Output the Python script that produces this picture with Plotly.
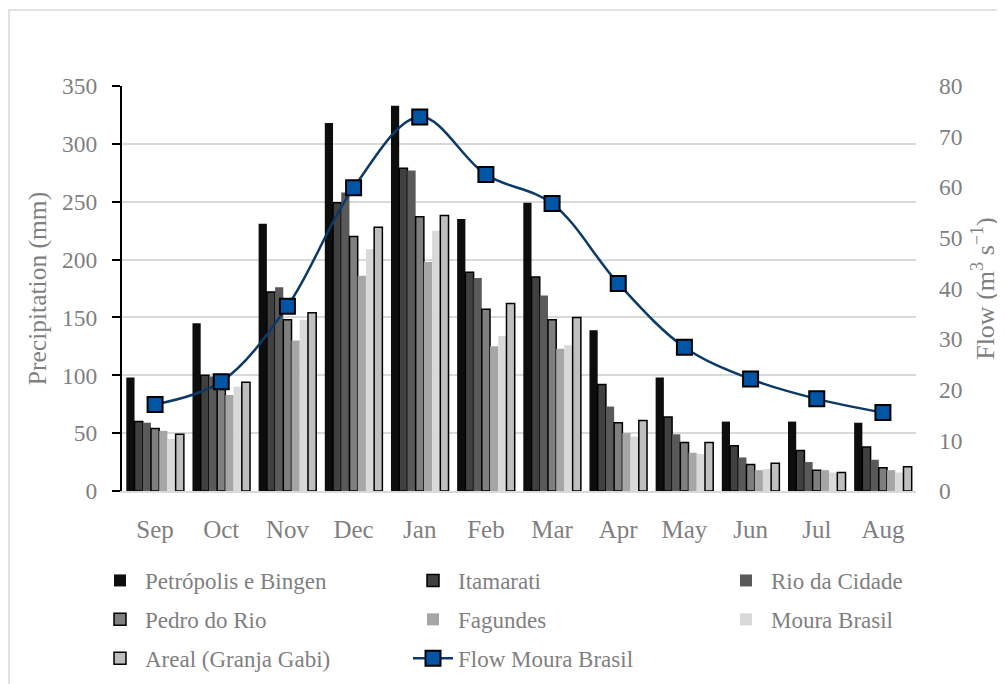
import plotly.graph_objects as go

months = ["Sep", "Oct", "Nov", "Dec", "Jan", "Feb", "Mar", "Apr", "May", "Jun", "Jul", "Aug"]
petropolis = [98, 145, 231, 318, 333, 235, 249, 139, 98, 60, 60, 59]
itamarati = [60, 100, 172, 249, 279, 189, 185, 92, 64, 39, 35, 38]
rio_cidade = [59, 99, 176, 258, 277, 184, 169, 73, 49, 29, 25, 27]
pedro_rio = [54, 96, 148, 220, 237, 157, 148, 59, 42, 23, 18, 20]
fagundes = [52, 83, 130, 186, 198, 125, 123, 50, 33, 18, 18, 18]
moura_brasil = [45, 90, 148, 209, 225, 134, 126, 47, 32, 19, 16, 16]
areal = [49, 94, 154, 228, 238, 162, 150, 61, 42, 24, 16, 21]
flow = [17.1, 21.6, 36.5, 59.9, 73.9, 62.5, 56.8, 41.0, 28.4, 22.1, 18.2, 15.5]

left_ticks = [0, 50, 100, 150, 200, 250, 300, 350]
right_ticks = [0, 10, 20, 30, 40, 50, 60, 70, 80]

FONT = "Liberation Serif"
GRAY = "#7f7f7f"

OFF = 8  # page body margin
W, H = 1005 - OFF, 684 - OFF
# plot area in page coordinates: x 122..916, y 86..491
L = 122 - OFF
T = 86 - OFF
R = W - (916 - OFF)
B = H - (491 - OFF)
PW = W - L - R
PH = H - T - B

def px_x(x):
    return (x - OFF - L) / PW

def px_y(y):
    return (H - B - (y - OFF)) / PH

series = [
    ("Petrópolis e Bingen", petropolis, "#0d0d0d", 0, "legend"),
    ("Itamarati", itamarati, "#404040", 1.5, "legend2"),
    ("Rio da Cidade", rio_cidade, "#595959", 0, "legend3"),
    ("Pedro do Rio", pedro_rio, "#7f7f7f", 1.5, "legend"),
    ("Fagundes", fagundes, "#a6a6a6", 0, "legend2"),
    ("Moura Brasil", moura_brasil, "#d9d9d9", 0, "legend3"),
    ("Areal (Granja Gabi)", areal, "#bfbfbf", 1.5, "legend"),
]

fig = go.Figure()
for i, (name, vals, color, lw, lg) in enumerate(series):
    fig.add_trace(go.Bar(
        x=months, y=vals, name=name, legend=lg, legendgroup=name,
        marker=dict(color=color, line=dict(color="#000000", width=lw)),
        yaxis="y",
    ))

fig.add_trace(go.Scatter(
    x=months, y=flow, name="Flow Moura Brasil", legend="legend2", legendgroup="flow",
    mode="lines+markers", yaxis="y2",
    line=dict(color="#0b3a68", width=2.5, shape="spline", smoothing=1.0),
    marker=dict(symbol="square", size=15, color="#0055a4", line=dict(color="#000000", width=2)),
))

leg_common = dict(
    orientation="v", font=dict(family=FONT, size=23, color=GRAY),
    bgcolor="rgba(0,0,0,0)", tracegroupgap=6, yanchor="top", xanchor="left",
    itemwidth=40,
)

fig.update_layout(
    width=W, height=H,
    margin=dict(l=L, r=R, t=T, b=B, pad=0, autoexpand=False),
    paper_bgcolor="white", plot_bgcolor="white",
    barmode="group", bargap=0.13, bargroupgap=0,
    font=dict(family=FONT, size=22, color=GRAY),
    xaxis=dict(
        type="category", range=[-0.5, len(months) - 0.5],
        showline=True, linecolor="#d9d9d9", linewidth=1.5,
        ticks="", showgrid=False, tickfont=dict(size=25, color=GRAY),
        ticklabelstandoff=15,
    ),
    yaxis=dict(
        range=[0, 350], tickvals=left_ticks, showline=True, linecolor="#000000",
        linewidth=2, ticks="outside", ticklen=8, tickwidth=2, tickcolor="#000000",
        showgrid=True, gridcolor="#d9d9d9", gridwidth=1.5, zeroline=False,
        tickfont=dict(size=23.5, color=GRAY), ticklabelstandoff=10,
        title=dict(text="Precipitation (mm)", font=dict(size=25.5, color=GRAY), standoff=8),
    ),
    yaxis3=dict(
        range=[0, 350], tickvals=left_ticks, overlaying="y", side="left",
        showline=False, ticks="inside", ticklen=8, tickwidth=2, tickcolor="#000000",
        showticklabels=False, showgrid=False, zeroline=False,
    ),
    yaxis2=dict(
        range=[0, 80], tickvals=right_ticks, overlaying="y", side="right",
        showline=False, ticks="", showgrid=False, zeroline=False,
        tickfont=dict(size=23.5, color=GRAY), ticklabelstandoff=22,
        title=dict(text="Flow (m<sup>3</sup> s<sup>−1</sup>)", font=dict(size=26, color=GRAY), standoff=14),
    ),
    legend=dict(x=px_x(95), y=px_y(559), **leg_common),
    legend2=dict(x=px_x(408), y=px_y(559), **leg_common),
    legend3=dict(x=px_x(721), y=px_y(559), **leg_common),
    showlegend=True,
    shapes=[dict(
        type="rect", xref="paper", yref="paper",
        x0=px_x(9), x1=px_x(1012), y0=px_y(700), y1=px_y(10),
        line=dict(color="#d9d9d9", width=1.5), fillcolor="rgba(0,0,0,0)", layer="below",
    )],
)

fig.write_html("out.html")
